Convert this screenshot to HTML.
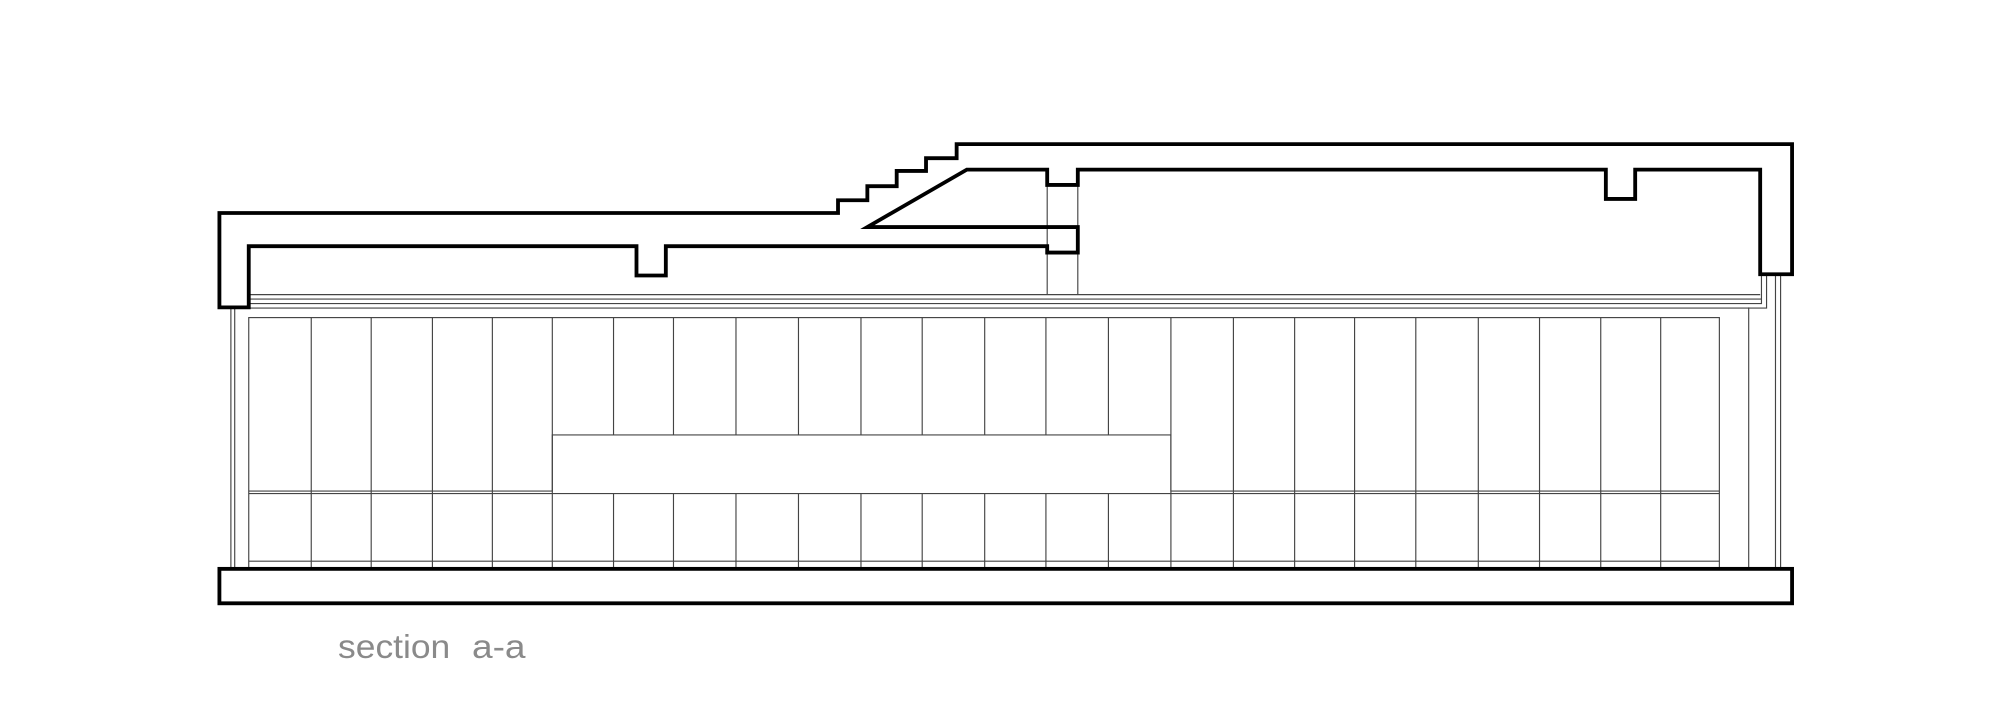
<!DOCTYPE html>
<html><head><meta charset="utf-8"><style>
html,body{margin:0;padding:0;background:#fff;}
svg{display:block;}
</style></head><body>
<svg width="2000" height="701" viewBox="0 0 1568 549.6" xmlns="http://www.w3.org/2000/svg">
<rect width="1568" height="549.6" fill="#fff"/>
<g fill="none" stroke="#444" stroke-width="0.9">
<line x1="195" y1="231" x2="1380" y2="231"/>
<line x1="195" y1="234.5" x2="1381" y2="234.5"/>
<polyline points="195,238 1381,238 1381,215"/>
<polyline points="195,241.5 1385,241.5 1385,215"/>
<line x1="181" y1="241" x2="181" y2="446"/>
<line x1="184" y1="241" x2="184" y2="446"/>
<line x1="1371" y1="241" x2="1371" y2="446"/>
<line x1="1392" y1="215" x2="1392" y2="446"/>
<line x1="1396" y1="215" x2="1396" y2="446"/>
<line x1="821" y1="145" x2="821" y2="231"/>
<line x1="845" y1="145" x2="845" y2="231"/>
<rect x="195" y="249" width="1153" height="197"/>
<polyline points="195,385 433,385 433,341 918,341 918,385 1348,385"/>
<line x1="195" y1="387" x2="1348" y2="387"/>
<line x1="195" y1="440" x2="1348" y2="440"/>
</g>
<g stroke="#444" stroke-width="0.9">
<line x1="244" y1="249" x2="244" y2="446"/><line x1="291" y1="249" x2="291" y2="446"/>
<line x1="339" y1="249" x2="339" y2="446"/><line x1="386" y1="249" x2="386" y2="446"/>
<line x1="433" y1="249" x2="433" y2="446"/>
<line x1="481" y1="249" x2="481" y2="341"/><line x1="481" y1="387" x2="481" y2="446"/>
<line x1="528" y1="249" x2="528" y2="341"/><line x1="528" y1="387" x2="528" y2="446"/>
<line x1="577" y1="249" x2="577" y2="341"/><line x1="577" y1="387" x2="577" y2="446"/>
<line x1="626" y1="249" x2="626" y2="341"/><line x1="626" y1="387" x2="626" y2="446"/>
<line x1="675" y1="249" x2="675" y2="341"/><line x1="675" y1="387" x2="675" y2="446"/>
<line x1="723" y1="249" x2="723" y2="341"/><line x1="723" y1="387" x2="723" y2="446"/>
<line x1="772" y1="249" x2="772" y2="341"/><line x1="772" y1="387" x2="772" y2="446"/>
<line x1="820" y1="249" x2="820" y2="341"/><line x1="820" y1="387" x2="820" y2="446"/>
<line x1="869" y1="249" x2="869" y2="341"/><line x1="869" y1="387" x2="869" y2="446"/>
<line x1="918" y1="249" x2="918" y2="446"/>
<line x1="967" y1="249" x2="967" y2="446"/><line x1="1015" y1="249" x2="1015" y2="446"/>
<line x1="1062" y1="249" x2="1062" y2="446"/><line x1="1110" y1="249" x2="1110" y2="446"/>
<line x1="1159" y1="249" x2="1159" y2="446"/><line x1="1207" y1="249" x2="1207" y2="446"/>
<line x1="1255" y1="249" x2="1255" y2="446"/><line x1="1302" y1="249" x2="1302" y2="446"/>
</g>
<g fill="none" stroke="#000" stroke-width="3" stroke-linejoin="miter">
<path d="M172,241 L172,167 L657,167 L657,157 L680,157 L680,146 L703,146 L703,134 L726,134 L726,124 L750,124 L750,113 L1405,113 L1405,215 L1380,215 L1380,133 L1282,133 L1282,156 L1259,156 L1259,133 L845,133 L845,145 L821,145 L821,133 L758,133 L680,178 L845,178 L845,198 L821,198 L821,193 L522,193 L522,216 L499,216 L499,193 L195,193 L195,241 Z"/>
<rect x="172" y="446" width="1233" height="27"/>
</g>
<g font-family="Liberation Sans, sans-serif" font-size="26" fill="#8a8a8a">
<text x="265" y="516" textLength="88" lengthAdjust="spacingAndGlyphs">section</text>
<text x="370" y="516" textLength="42" lengthAdjust="spacingAndGlyphs">a-a</text>
</g>
</svg>
</body></html>
